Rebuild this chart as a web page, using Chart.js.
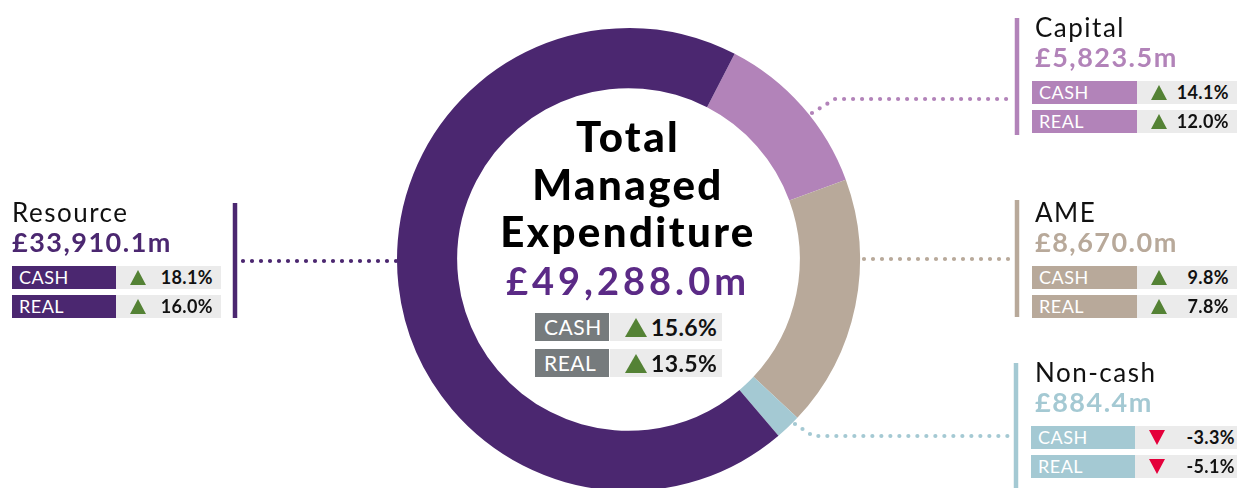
<!DOCTYPE html>
<html lang="en">
  <head>
    <meta charset="UTF-8">
    <title>Total Managed Expenditure</title>
    <script src="https://cdn.jsdelivr.net/npm/chart.js"></script>
    <style>
      html, body { margin: 0; padding: 0; background: #fff; }
      body { width: 1237px; height: 488px; overflow: hidden; position: relative; font-family: 'Lato', 'DejaVu Sans', sans-serif; }
      #wrap { position: absolute; left: 0; top: 0; width: 1237px; height: 494px; }
      .txt { position: absolute; white-space: nowrap; }
      .row { position: absolute; display: flex; }
      .lbl { color: #fff; font-weight: 400; box-sizing: border-box; letter-spacing: 0.5px; }
      .val { background: #ebebeb; position: relative; box-sizing: border-box; color: #111; font-weight: 700; }
      .tri { position: absolute; width: 0; height: 0; }
    </style>
  </head>
  <body>
    <div id="wrap"><canvas id="myChart"></canvas></div>
    <div id="labels"></div>
    <script>
      // datos del gráfico
      const segmentos = ['Capital', 'AME', 'Non-cash', 'Resource'];
      const valores = [5823.5, 8670.0, 884.4, 33910.1];
      const cambioCash = [14.1, 9.8, -3.3, 18.1];
      const cambioReal = [12.0, 7.8, -5.1, 16.0];
      const tituloTotal = ['Total', 'Managed', 'Expenditure'];
      const totalValor = 49288.0;
      const totalCash = 15.6;
      const totalReal = 13.5;

      const colores = ['#b283b9', '#b8a99a', '#a4c9d3', '#4b2770'];
      const colorTotal = '#5b2a86';
      const verde = '#548235';
      const rojo = '#e4003b';

      // posiciones de los paneles (tope de la mayúscula del titulo)
      const paneles = [
        { x: 1035, y: 18, box: 1032, lblW: 105, valW: 100, barX: 1017, bar: [18, 135], linea: [[812, 113], [835, 99], [1010, 99]] },
        { x: 1035, y: 203, box: 1032, lblW: 105, valW: 100, barX: 1017, bar: [200, 317], linea: [[864, 259], [1010, 259]] },
        { x: 1035, y: 363, box: 1031, lblW: 104, valW: 102, barX: 1016, bar: [363, 488], linea: [[795, 424], [813, 436], [1008, 436]] },
        { x: 12, y: 203, box: 12, lblW: 104, valW: 105, barX: 235, bar: [203, 318], linea: [[243, 261], [397, 261]] }
      ];

      const fmt = v => '£' + v.toLocaleString('en-GB', { minimumFractionDigits: 1, maximumFractionDigits: 1 }) + 'm';
      const pct = v => v.toFixed(1) + '%';

      const cont = document.getElementById('labels');
      const addTxt = (text, left, baseline, size, weight, color, extra) => {
        const d = document.createElement('div');
        d.className = 'txt';
        d.textContent = text;
        d.style.left = left + 'px';
        d.style.top = (baseline - 0.887 * size) + 'px';
        d.style.fontSize = size + 'px';
        d.style.lineHeight = size + 'px';
        d.style.fontWeight = weight;
        d.style.color = color;
        if (extra) Object.assign(d.style, extra);
        cont.appendChild(d);
        return d;
      };

      const triangulo = (parent, up, left, top, w, h) => {
        const t = document.createElement('div');
        t.className = 'tri';
        t.style.left = left + 'px';
        t.style.top = top + 'px';
        t.style.borderLeft = (w / 2) + 'px solid transparent';
        t.style.borderRight = (w / 2) + 'px solid transparent';
        if (up) t.style.borderBottom = h + 'px solid ' + verde;
        else t.style.borderTop = h + 'px solid ' + rojo;
        parent.appendChild(t);
      };

      const addFila = (opts) => {
        const r = document.createElement('div');
        r.className = 'row';
        r.style.left = opts.left + 'px';
        r.style.top = opts.top + 'px';
        r.style.height = opts.h + 'px';
        const l = document.createElement('div');
        l.className = 'lbl';
        l.textContent = opts.label;
        l.style.width = opts.lblW + 'px';
        l.style.background = opts.color;
        l.style.fontSize = opts.lblSize + 'px';
        l.style.lineHeight = opts.h + 'px';
        l.style.paddingLeft = opts.lblPad + 'px';
        const v = document.createElement('div');
        v.className = 'val';
        v.style.width = opts.valW + 'px';
        v.style.marginLeft = opts.gap + 'px';
        triangulo(v, opts.value >= 0, opts.triX, (opts.h - opts.triH) / 2, opts.triW, opts.triH);
        const s = document.createElement('div');
        s.textContent = pct(opts.value);
        s.style.position = 'absolute';
        s.style.fontSize = opts.valSize + 'px';
        s.style.lineHeight = opts.h + 'px';
        s.style.letterSpacing = '0.4px';
        s.style.top = '0px';
        if (opts.alignRight !== undefined) s.style.right = opts.alignRight + 'px';
        else s.style.left = opts.textX + 'px';
        v.appendChild(s);
        r.appendChild(l);
        r.appendChild(v);
        cont.appendChild(r);
      };

      segmentos.forEach((nombre, i) => {
        const p = paneles[i];
        addTxt(nombre, p.x, p.y + 19.5, 26, 400, '#111', { letterSpacing: '1.5px' });
        addTxt(fmt(valores[i]), p.x, p.y + 49, 27, 700, colores[i], { letterSpacing: '1.5px' });
        const base = { left: p.box, h: 23, lblW: p.lblW, valW: p.valW, color: colores[i], lblSize: 18, lblPad: 7, gap: 0,
                       triX: 14, triW: 17, triH: 15, valSize: 18, alignRight: i === 2 ? 2 : 8 };
        addFila(Object.assign({}, base, { top: p.y + 63, label: 'CASH', value: cambioCash[i] }));
        addFila(Object.assign({}, base, { top: p.y + 92, label: 'REAL', value: cambioReal[i] }));
      });

      // texto central
      const baseTitulo = [152, 200, 247];
      tituloTotal.forEach((t, i) => addTxt(t, 428, baseTitulo[i], 42, 900, '#000', { width: '400px', textAlign: 'center', letterSpacing: '2.4px' }));
      addTxt(fmt(totalValor), 428, 295, 38, 700, colorTotal, { width: '400px', textAlign: 'center', letterSpacing: '4px' });
      const baseCentro = { left: 535, h: 28, lblW: 74, valW: 112, color: '#767b7d', lblSize: 21, lblPad: 9, gap: 1,
                           triX: 15, triW: 22, triH: 19, valSize: 23, textX: 41 };
      addFila(Object.assign({}, baseCentro, { top: 313, label: 'CASH', value: totalCash }));
      addFila(Object.assign({}, baseCentro, { top: 349, label: 'REAL', value: totalReal }));

      // líneas punteadas y barras verticales
      const conectores = {
        id: 'conectores',
        afterDraw(chart) {
          const c = chart.ctx;
          c.save();
          paneles.forEach((p, i) => {
            c.strokeStyle = colores[i];
            c.lineCap = 'butt';
            c.setLineDash([]);
            c.lineWidth = 4.5;
            c.beginPath();
            c.moveTo(p.barX, p.bar[0]);
            c.lineTo(p.barX, p.bar[1]);
            c.stroke();
            c.lineCap = 'round';
            c.lineWidth = 4.2;
            c.setLineDash([0, 9]);
            c.beginPath();
            p.linea.forEach((pt, k) => k === 0 ? c.moveTo(pt[0], pt[1]) : c.lineTo(pt[0], pt[1]));
            c.stroke();
          });
          c.restore();
        }
      };

      const ctx = document.getElementById('myChart');
      new Chart(ctx, {
        type: 'doughnut',
        data: {
          labels: segmentos,
          datasets: [{
            data: valores,
            backgroundColor: colores,
            borderWidth: 0
          }]
        },
        options: {
          responsive: true,
          maintainAspectRatio: false,
          animation: false,
          rotation: 27.3,
          cutout: '74%',
          layout: { padding: { left: 397, right: 377, top: 28, bottom: 3 } },
          plugins: { legend: { display: false }, tooltip: { enabled: false } }
        },
        plugins: [conectores]
      });
    </script>
  </body>
</html>
